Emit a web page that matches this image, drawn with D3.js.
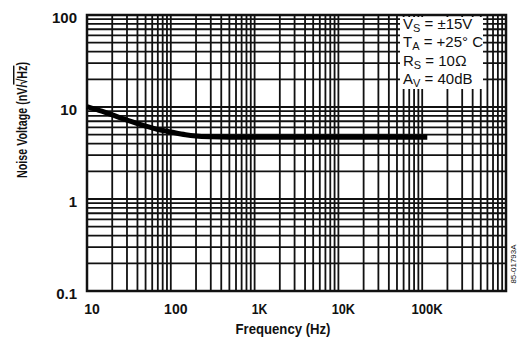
<!DOCTYPE html>
<html>
<head>
<meta charset="utf-8">
<script src="https://cdn.jsdelivr.net/npm/d3@7"></script>
<style>
  body { margin: 0; background: #fff; }
  svg { display: block; }
  .lbl { font-family: "Liberation Sans", Arial, sans-serif; font-weight: bold; fill: #111; }
  .note { font-family: "Liberation Sans", Arial, sans-serif; fill: #111; }
</style>
</head>
<body>
<svg id="chart" width="519" height="342"></svg>
<script>
  // curve
  const freq = [10, 15, 20, 30, 50, 70, 100, 150, 200, 300, 500, 1000, 3000, 10000, 30000, 100000, 115000];
  const noise = [10.1, 9.0, 8.2, 7.2, 6.2, 5.7, 5.35, 5.0, 4.85, 4.75, 4.7, 4.7, 4.7, 4.7, 4.7, 4.7, 4.7];

  const xTicks = [10, 100, 1000, 10000, 100000];
  const xTickLabels = ["10", "100", "1K", "10K", "100K"];
  const yTicks = [0.1, 1, 10, 100];
  const yTickLabels = ["0.1", "1", "10", "100"];
  const notes = [
    ["V", "S", " = \u00b115V"],
    ["T", "A", " = +25\u00b0 C"],
    ["R", "S", " = 10\u2126"],
    ["A", "V", " = 40dB"]
  ];

  (function () {
    const svg = d3.select("#chart");
    const left = 87, right = 506, plotTop = 15, bottom = 291;

    const x = d3.scaleLog().domain([10, 1e6]).range([left, right]);
    const y = d3.scaleLog().domain([0.1, 100]).range([bottom, plotTop]);

    // minor + major log grid
    const xGrid = [];
    for (let d = 10; d < 1e6; d *= 10) for (let k = 1; k < 10; k++) xGrid.push(d * k);
    const yGrid = [];
    for (let d = 0.1; d < 99; d *= 10) for (let k = 1; k < 10; k++) yGrid.push(d * k);

    const grid = svg.append("g").attr("stroke", "#111").attr("stroke-width", 1.8);
    grid.selectAll("line.v").data(xGrid).join("line")
      .attr("class", "v")
      .attr("x1", d => x(d)).attr("x2", d => x(d))
      .attr("y1", plotTop).attr("y2", bottom);
    grid.selectAll("line.h").data(yGrid).join("line")
      .attr("class", "h")
      .attr("x1", left).attr("x2", right)
      .attr("y1", d => y(d)).attr("y2", d => y(d));

    svg.append("rect")
      .attr("x", left).attr("y", plotTop)
      .attr("width", right - left).attr("height", bottom - plotTop)
      .attr("fill", "none").attr("stroke", "#111").attr("stroke-width", 2.5);

    // condition box
    svg.append("rect")
      .attr("x", 400).attr("y", plotTop + 2)
      .attr("width", 83).attr("height", 72)
      .attr("fill", "#fff");

    const noteText = svg.append("g").attr("class", "note").attr("font-size", 15);
    notes.forEach((n, i) => {
      const t = noteText.append("text").attr("x", 403).attr("y", 29 + i * 18.3);
      t.append("tspan").text(n[0]);
      t.append("tspan").attr("font-size", 11).attr("dy", 3).text(n[1]);
      t.append("tspan").attr("dy", -3).text(n[2]);
    });

    // noise curve
    const line = d3.line().x(d => x(d[0])).y(d => y(d[1])).curve(d3.curveMonotoneX);
    svg.append("path")
      .datum(freq.map((f, i) => [f, noise[i]]))
      .attr("d", line)
      .attr("fill", "none").attr("stroke", "#000").attr("stroke-width", 5);

    // tick labels
    svg.append("g").attr("class", "lbl").attr("font-size", 14.5).attr("text-anchor", "middle")
      .selectAll("text").data(xTicks).join("text")
      .attr("x", d => x(d) + 5).attr("y", 314)
      .attr("textLength", (d, i) => xTickLabels[i].length * 7.8)
      .attr("lengthAdjust", "spacingAndGlyphs")
      .text((d, i) => xTickLabels[i]);

    svg.append("g").attr("class", "lbl").attr("font-size", 15).attr("text-anchor", "end")
      .selectAll("text").data(yTicks).join("text")
      .attr("x", 77).attr("y", d => y(d) + 8)
      .text((d, i) => yTickLabels[i]);

    // axis titles
    svg.append("text").attr("class", "lbl").attr("font-size", 14)
      .attr("text-anchor", "middle").attr("x", 283).attr("y", 334)
      .attr("textLength", 95).attr("lengthAdjust", "spacingAndGlyphs")
      .text("Frequency (Hz)");

    const yt = svg.append("text").attr("class", "lbl").attr("font-size", 14.5)
      .attr("text-anchor", "middle")
      .attr("textLength", 116).attr("lengthAdjust", "spacingAndGlyphs")
      .attr("transform", "translate(27,120) rotate(-90)");
    yt.append("tspan").text("Noise Voltage (nV/");
    yt.append("tspan").attr("text-decoration", "overline").text("\u221aHz");
    yt.append("tspan").text(")");

    svg.append("text").attr("class", "note").attr("font-size", 8)
      .attr("text-anchor", "middle")
      .attr("transform", "translate(516,264) rotate(-90)")
      .text("85-01793A");
  })();
</script>
</body>
</html>
